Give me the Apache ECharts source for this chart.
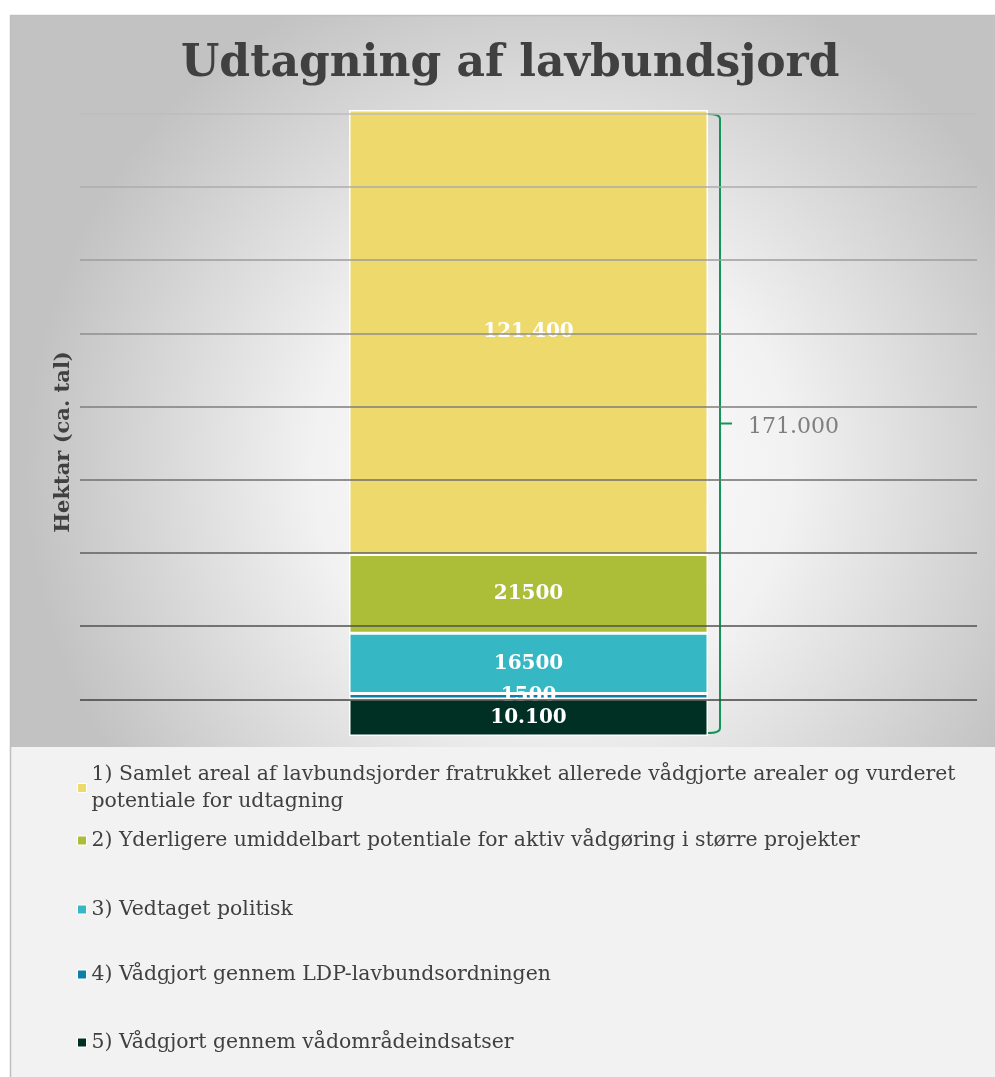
<!DOCTYPE html>
<html><head><meta charset="utf-8">
<script src="https://cdn.jsdelivr.net/npm/echarts@6/dist/echarts.min.js"></script>
<style>html,body{margin:0;padding:0;background:#fff}#c{width:995px;height:1077px}</style>
</head><body><div id="c"></div>
<script>
// ---- data ----
const categories = ['Lavbund'];
const seriesNames = [
  '1) Samlet areal af lavbundsjorder fratrukket allerede vådgjorte arealer og vurderet potentiale for udtagning',
  '2) Yderligere umiddelbart potentiale for aktiv vådgøring i større projekter',
  '3) Vedtaget politisk',
  '4) Vådgjort gennem LDP-lavbundsordningen',
  '5) Vådgjort gennem vådområdeindsatser'
];
const seriesValues = [121400, 21500, 16500, 1500, 10100];
const seriesLabels = ['121.400', '21500', '16500', '1500', '10.100'];
const gridValues = [10000, 30000, 50000, 70000, 90000, 110000, 130000, 150000, 170000];
const totalLabel = '171.000';
const titleText = 'Udtagning af lavbundsjord';
const axisName = 'Hektar (ca. tal)';

// ---- style ----
const colors = ['#eed96c', '#acbd38', '#35b8c4', '#0b7fa6', '#003024'];
const legendTops = [756, 822, 891, 956, 1024];
const serif = '"DejaVu Serif", Georgia, serif';
const gridColor = i => {
  const t = i / (gridValues.length - 1);
  const v = Math.round(0x40 + t * (0xbc - 0x40));
  return 'rgb(' + v + ',' + v + ',' + v + ')';
};
const total = seriesValues.reduce((a, b) => a + b, 0);

const chart = echarts.init(document.getElementById('c'), null, {renderer: 'canvas'});

const barSeries = [];
for (let i = seriesNames.length - 1; i >= 0; i--) {
  barSeries.push({
    name: seriesNames[i], type: 'bar', stack: 'a', barWidth: 359, z: 3,
    data: [seriesValues[i]],
    itemStyle: {color: colors[i], borderColor: '#ffffff', borderWidth: 1.5},
    label: {show: true, position: 'inside', formatter: () => seriesLabels[i],
      color: '#ffffff', fontFamily: serif, fontWeight: 'bold', fontSize: 20}
  });
}

const legends = seriesNames.map((n, i) => ({
  data: [n], left: 72, top: legendTops[i], orient: 'vertical',
  icon: 'rect', itemWidth: 9, itemHeight: 9, itemGap: 0,
  itemStyle: {borderColor: '#ffffff', borderWidth: 1},
  selectedMode: false,
  textStyle: {fontFamily: serif, fontSize: 20.4, color: '#404040', width: 880, overflow: 'break', lineHeight: 27}
}));

chart.setOption({
  animation: false,
  graphic: [
    {type: 'rect', z: -10, shape: {x: 10, y: 15, width: 985, height: 732},
      style: {fill: new echarts.graphic.RadialGradient(0.55, 0.62, 0.72, [
        {offset: 0, color: '#ffffff'}, {offset: 0.45, color: '#f2f2f2'}, {offset: 1, color: '#c2c2c2'}])}},
    {type: 'rect', z: -10, shape: {x: 10, y: 747, width: 985, height: 330}, style: {fill: '#f2f2f2'}},
    {type: 'rect', z: -9, shape: {x: 10.5, y: 15.5, width: 990, height: 1070}, style: {fill: 'none', stroke: '#bfbfbf', lineWidth: 1.5}}
  ],
  title: {text: titleText, left: 176, top: 38,
    textStyle: {fontFamily: serif, fontWeight: 'bold', fontSize: 44, color: '#404040'}},
  legend: legends,
  grid: {left: 80, right: 18, top: 110, bottom: 341},
  xAxis: {type: 'category', data: categories, show: false},
  yAxis: {type: 'value', min: 0, max: total,
    name: axisName, nameLocation: 'middle', nameGap: 6, nameRotate: 90,
    nameTextStyle: {fontFamily: serif, fontWeight: 'bold', fontSize: 21, color: '#404040', padding: [0, 38, 0, 0]},
    axisLine: {show: false}, axisTick: {show: false}, axisLabel: {show: false}, splitLine: {show: false}},
  series: [
    {type: 'line', data: [], z: 1, silent: true,
      markLine: {silent: true, symbol: 'none', label: {show: false},
        data: gridValues.map((v, i) => ({yAxis: v, lineStyle: {color: gridColor(i), width: 1.5, type: 'solid'}}))}},
    ...barSeries,
    {type: 'custom', z: 4, silent: true, data: [[0, total]],
      renderItem: (params, api) => {
        const top = api.coord([0, api.value(1)]);
        const bot = api.coord([0, 0]);
        const x0 = top[0] + 179.5;
        const x1 = x0 + 12;
        const yt = top[1] + 4, yb = bot[1] - 3, ym = (yt + yb) / 2;
        const r = 5;
        return {type: 'group', children: [
          {type: 'path', shape: {pathData:
            'M' + x0 + ' ' + yt + ' Q' + x1 + ' ' + yt + ' ' + x1 + ' ' + (yt + r) +
            ' L' + x1 + ' ' + (yb - r) + ' Q' + x1 + ' ' + yb + ' ' + x0 + ' ' + yb +
            ' M' + x1 + ' ' + ym + ' L' + (x1 + 12) + ' ' + ym},
            style: {fill: 'none', stroke: '#13955a', lineWidth: 2}},
          {type: 'text', style: {text: totalLabel, x: x1 + 28, y: ym + 4, verticalAlign: 'middle',
            fontFamily: serif, fontSize: 22, fill: '#7f7f7f'}}
        ]};
      }}
  ]
});
</script></body></html>
